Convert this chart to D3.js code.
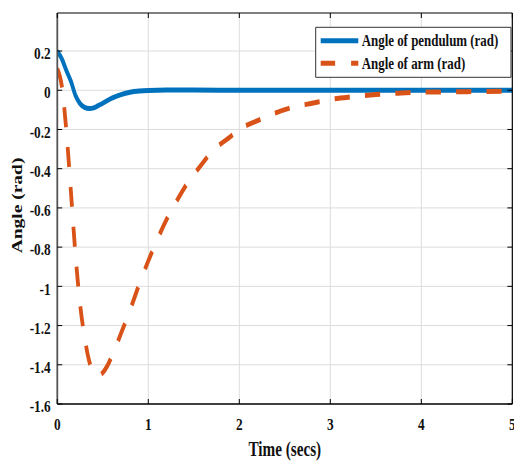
<!DOCTYPE html>
<html>
<head>
<meta charset="utf-8">
<script src="https://cdn.jsdelivr.net/npm/d3@7"></script>
<style>
  html, body { margin: 0; padding: 0; background: #fff; }
  svg { display: block; }
  text { font-family: "Liberation Serif", "Times New Roman", serif; font-weight: bold; fill: #111; }
</style>
</head>
<body>
<svg id="chart" width="514" height="461"></svg>
<script>
// Time samples (s) and response of the pendulum angle (rad)
const pendulumTime = [0, 0.05, 0.1, 0.15, 0.2, 0.25, 0.3, 0.35, 0.4, 0.45, 0.5, 0.6, 0.7, 0.8, 0.9, 1.0, 1.2, 1.5, 2, 3, 4, 5];
const pendulumAngle = [0.2, 0.16, 0.10, 0.045, -0.027, -0.068, -0.087, -0.093, -0.09, -0.078, -0.066, -0.04, -0.022, -0.01, -0.004, -0.001, 0.001, 0.001, 0, 0, 0, 0];

// Time samples (s) and response of the arm angle (rad)
const armTime = [0, 0.05, 0.1, 0.15, 0.2, 0.25, 0.3, 0.35, 0.4, 0.45, 0.5, 0.55, 0.6, 0.7, 0.8, 0.9, 1.0, 1.1, 1.2, 1.3, 1.4, 1.5, 1.6, 1.7, 1.8, 1.9, 2.0, 2.2, 2.4, 2.6, 2.8, 3.0, 3.25, 3.5, 3.75, 4.0, 4.5, 5.0];
const armAngle = [0.11, 0.02, -0.21, -0.52, -0.84, -1.09, -1.26, -1.38, -1.435, -1.455, -1.44, -1.405, -1.355, -1.24, -1.12, -0.99, -0.87, -0.76, -0.66, -0.575, -0.495, -0.43, -0.37, -0.311, -0.272, -0.238, -0.20, -0.155, -0.115, -0.085, -0.066, -0.047, -0.033, -0.022, -0.015, -0.01, -0.007, -0.004];

// Axis ticks
const xTicks = [0, 1, 2, 3, 4, 5];
const yTicks = [-1.6, -1.4, -1.2, -1, -0.8, -0.6, -0.4, -0.2, 0, 0.2];
const yTickLabels = ["-1.6", "-1.4", "-1.2", "-1", "-0.8", "-0.6", "-0.4", "-0.2", "0", "0.2"];

const seriesNames = ["Angle of pendulum (rad)", "Angle of arm (rad)"];
const seriesColors = ["#0072BD", "#D95319"];

// Horizontal squeeze of the whole figure (narrow typeface look)
const SX = 0.76;
const pLeft = 75.4, pRight = 674.1, pTop = 13, pBottom = 404;

const svg = d3.select("#chart");
svg.append("rect").attr("width", 514).attr("height", 461).attr("fill", "#fff");
const g = svg.append("g").attr("transform", `scale(${SX},1)`);

const x = d3.scaleLinear().domain([0, 5]).range([pLeft, pRight]);
const y = d3.scaleLinear().domain([-1.6, 0.394]).range([pBottom, pTop]);

// grid
const grid = g.append("g");
grid.selectAll("line.gx").data(xTicks.slice(1, -1)).join("line")
  .attr("x1", d => x(d)).attr("x2", d => x(d)).attr("y1", pTop).attr("y2", pBottom)
  .attr("stroke", "#dcdcdc").attr("stroke-width", 1).attr("vector-effect", "non-scaling-stroke");
grid.selectAll("line.gy").data(yTicks.slice(1)).join("line")
  .attr("x1", pLeft).attr("x2", pRight).attr("y1", d => y(d)).attr("y2", d => y(d))
  .attr("stroke", "#dcdcdc").attr("stroke-width", 1).attr("vector-effect", "non-scaling-stroke");

// clip for data lines
g.append("clipPath").attr("id", "plotclip").append("rect")
  .attr("x", pLeft).attr("y", pTop).attr("width", pRight - pLeft).attr("height", pBottom - pTop);

const line = d3.line().x(d => x(d[0])).y(d => y(d[1])).curve(d3.curveMonotoneX);
const pendData = pendulumTime.map((t, i) => [t, pendulumAngle[i]]);
const armData = armTime.map((t, i) => [t, armAngle[i]]);

const plot = g.append("g").attr("clip-path", "url(#plotclip)");
plot.append("path").datum(pendData).attr("d", line)
  .attr("fill", "none").attr("stroke", seriesColors[0]).attr("stroke-width", 5)
  .attr("stroke-linejoin", "round");
plot.append("path").datum(armData).attr("d", line)
  .attr("fill", "none").attr("stroke", seriesColors[1]).attr("stroke-width", 5)
  .attr("stroke-dasharray", "20,20");

// frame
const frame = g.append("g");
frame.append("line").attr("x1", pLeft).attr("x2", pRight).attr("y1", pBottom).attr("y2", pBottom)
  .attr("stroke", "#000").attr("stroke-width", 1.4).attr("vector-effect", "non-scaling-stroke");
frame.append("line").attr("x1", pLeft).attr("x2", pRight).attr("y1", pTop).attr("y2", pTop)
  .attr("stroke", "#000").attr("stroke-width", 1.2).attr("vector-effect", "non-scaling-stroke");
frame.append("line").attr("x1", pLeft).attr("x2", pLeft).attr("y1", pTop).attr("y2", pBottom)
  .attr("stroke", "#555").attr("stroke-width", 1.8).attr("vector-effect", "non-scaling-stroke");
frame.append("line").attr("x1", pRight).attr("x2", pRight).attr("y1", pTop).attr("y2", pBottom)
  .attr("stroke", "#000").attr("stroke-width", 1.2).attr("vector-effect", "non-scaling-stroke");

// inward ticks on all four sides
const tl = 5, tlx = 6.5;
xTicks.forEach(t => {
  frame.append("line").attr("x1", x(t)).attr("x2", x(t)).attr("y1", pBottom).attr("y2", pBottom - tl)
    .attr("stroke", "#000").attr("vector-effect", "non-scaling-stroke");
  frame.append("line").attr("x1", x(t)).attr("x2", x(t)).attr("y1", pTop).attr("y2", pTop + tl)
    .attr("stroke", "#000").attr("vector-effect", "non-scaling-stroke");
});
yTicks.forEach(t => {
  frame.append("line").attr("x1", pLeft).attr("x2", pLeft + tlx).attr("y1", y(t)).attr("y2", y(t))
    .attr("stroke", "#000").attr("vector-effect", "non-scaling-stroke");
  frame.append("line").attr("x1", pRight).attr("x2", pRight - tlx).attr("y1", y(t)).attr("y2", y(t))
    .attr("stroke", "#000").attr("vector-effect", "non-scaling-stroke");
});

// tick labels
g.selectAll("text.xt").data(xTicks).join("text")
  .attr("x", d => x(d)).attr("y", 430.5).attr("text-anchor", "middle")
  .attr("font-size", 17.5).text(d => d3.format("d")(d));
g.selectAll("text.yt").data(yTicks).join("text")
  .attr("x", 66.7).attr("y", d => y(d) + 8.2).attr("text-anchor", "end")
  .attr("font-size", 17.5).text((d, i) => yTickLabels[i]);

// axis titles
g.append("text").attr("x", (pLeft + pRight) / 2).attr("y", 456).attr("text-anchor", "middle")
  .attr("font-size", 20).text("Time (secs)");
g.append("text").attr("transform", `translate(${22 / SX},${(pTop + pBottom) / 2 - 3}) rotate(-90)`)
  .attr("text-anchor", "middle").attr("font-size", 19.5).text("Angle (rad)");

// legend
const lgX0 = 315.7 / SX, lgX1 = 511 / SX, lgY0 = 27.3, lgY1 = 77.3;
const lg = g.append("g");
lg.append("rect").attr("x", lgX0).attr("y", lgY0).attr("width", lgX1 - lgX0).attr("height", lgY1 - lgY0)
  .attr("fill", "#fff").attr("stroke", "#333").attr("stroke-width", 1).attr("vector-effect", "non-scaling-stroke");
const rowsY = [40.7, 63.3];
seriesNames.forEach((name, i) => {
  lg.append("line").attr("x1", 320.7 / SX).attr("x2", 358.3 / SX).attr("y1", rowsY[i]).attr("y2", rowsY[i])
    .attr("stroke", seriesColors[i]).attr("stroke-width", 5)
    .attr("stroke-dasharray", i === 1 ? "19,21" : null);
  lg.append("text").attr("x", 361.7 / SX).attr("y", rowsY[i] + 5.8)
    .attr("font-size", 17).text(name);
});
</script>
</body>
</html>
